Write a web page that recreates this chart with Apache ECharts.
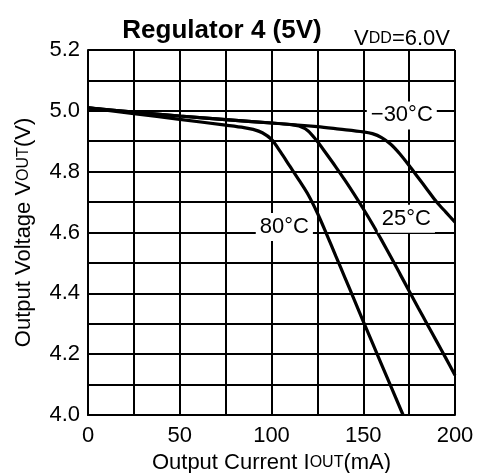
<!DOCTYPE html>
<html><head><meta charset="utf-8">
<script src="https://cdn.jsdelivr.net/npm/echarts@6/dist/echarts.min.js"></script>
<style>html,body{margin:0;padding:0;background:#fff}#c{width:477px;height:473px}</style>
</head><body><div id="c"></div>
<script>
// Output current (mA) and output voltage (V) per temperature
const iout80 = [0, 25, 50, 75, 85, 90, 95, 100, 105, 110, 115, 120, 125, 130, 135, 140, 145, 150, 160, 171.7];
const vout80 = [5.010, 4.991, 4.972, 4.953, 4.945, 4.939, 4.928, 4.906, 4.864, 4.818, 4.772, 4.724, 4.664, 4.595, 4.523, 4.452, 4.380, 4.308, 4.166, 4.000];
const iout25 = [0, 25, 50, 75, 100, 110, 115, 120, 125, 130, 135, 140, 145, 150, 155, 160, 165, 170, 175, 180, 185, 190, 195, 200];
const vout25 = [5.010, 4.996, 4.983, 4.971, 4.960, 4.955, 4.950, 4.934, 4.899, 4.858, 4.816, 4.772, 4.726, 4.678, 4.628, 4.575, 4.520, 4.464, 4.408, 4.352, 4.297, 4.242, 4.187, 4.131];
const ioutM30 = [0, 25, 50, 75, 100, 125, 137, 150, 155, 160, 165, 170, 175, 180, 185, 190, 195, 200];
const voutM30 = [5.010, 4.996, 4.983, 4.971, 4.960, 4.948, 4.940, 4.931, 4.925, 4.912, 4.890, 4.858, 4.820, 4.780, 4.740, 4.700, 4.667, 4.634];
const xTicks = [0, 50, 100, 150, 200];
const yTicks = ['4.0', '4.2', '4.4', '4.6', '4.8', '5.0', '5.2'];
const tempLabels = ['−30°C', '25°C', '80°C'];

const zip = (a, b) => a.map((v, i) => [v, b[i]]);
const FONT = '"Liberation Sans", Arial, sans-serif';
const lbl = (coord, text) => ({
  coord: coord, value: text,
  label: { show: true, formatter: text, color: '#000', fontSize: 22, fontFamily: FONT,
    backgroundColor: '#fff', padding: [3, 4, 3, 4] }
});
const lineSeries = (data, mark) => ({
  type: 'line', data: data, showSymbol: false, smooth: 0.3,
  lineStyle: { color: '#000', width: 3.2 }, z: 3,
  markPoint: { symbol: 'rect', symbolSize: 0, data: [mark], z: 5 }
});

const chart = echarts.init(document.getElementById('c'), null, { renderer: 'canvas' });
chart.setOption({
  animation: false,
  textStyle: { fontFamily: FONT },
  grid: { left: 88, right: 22, top: 50, bottom: 58, outerBoundsMode: 'none', containLabel: false },
  title: [
    { text: 'Regulator 4 (5V)', left: 217, top: 13, textAlign: 'center',
      textStyle: { fontSize: 26, fontWeight: 'bold', color: '#000', fontFamily: FONT } },
    { text: '{a|V}{b|DD}{a|=6.0V}', right: 22, top: 23,
      textStyle: { fontWeight: 'normal', rich: { a: { fontSize: 22, fontWeight: 'normal', color: '#000', fontFamily: FONT },
                           b: { fontSize: 16, fontWeight: 'normal', color: '#000', fontFamily: FONT } } } }
  ],
  xAxis: {
    type: 'value', min: 0, max: 200, interval: 25,
    name: '{a|Output Current I}{b|OUT}{a|(mA)}', nameLocation: 'middle', nameGap: 29,
    nameTextStyle: { rich: { a: { fontSize: 22, color: '#000', fontFamily: FONT },
                              b: { fontSize: 16, color: '#000', fontFamily: FONT } } },
    axisLine: { show: true, lineStyle: { color: '#000', width: 2 } },
    axisTick: { show: false },
    axisLabel: { fontSize: 22, color: '#000', margin: 10, fontFamily: FONT,
      formatter: v => xTicks.indexOf(Math.round(v)) >= 0 ? String(Math.round(v)) : '' },
    splitLine: { show: true, lineStyle: { color: '#000', width: 2 } }
  },
  yAxis: {
    type: 'value', min: 4.0, max: 5.2, interval: 0.1,
    name: '{a|Output Voltage V}{b|OUT}{a|(V)}', nameLocation: 'middle', nameGap: 53,
    nameTextStyle: { rich: { a: { fontSize: 22, color: '#000', fontFamily: FONT },
                              b: { fontSize: 16, color: '#000', fontFamily: FONT } } },
    axisLine: { show: true, lineStyle: { color: '#000', width: 2 } },
    axisTick: { show: false },
    axisLabel: { fontSize: 22, color: '#000', margin: 8, fontFamily: FONT,
      formatter: v => { const s = v.toFixed(1); return yTicks.indexOf(s) >= 0 ? s : ''; } },
    splitLine: { show: true, lineStyle: { color: '#000', width: 2 } }
  },
  series: [
    lineSeries(zip(ioutM30, voutM30), lbl([171, 4.985], tempLabels[0])),
    lineSeries(zip(iout25, vout25), lbl([173.5, 4.645], tempLabels[1])),
    lineSeries(zip(iout80, vout80), lbl([107, 4.618], tempLabels[2]))
  ]
});
</script>
</body></html>
